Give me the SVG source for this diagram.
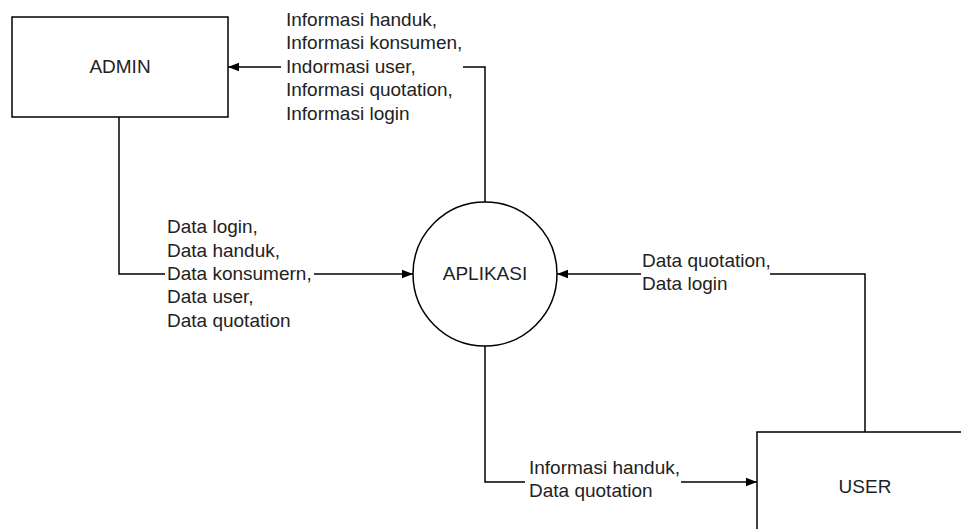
<svg xmlns="http://www.w3.org/2000/svg" width="961" height="529" viewBox="0 0 961 529">
  <defs>
    <style>
      .shape { fill: #ffffff; stroke: #000000; stroke-width: 1.5; }
      .flow { fill: none; stroke: #000000; stroke-width: 1.5; }
      .label { font-family: "Liberation Sans", Arial, sans-serif; font-size: 19px; fill: #222222; }
      .title { font-family: "Liberation Sans", Arial, sans-serif; font-size: 19px; fill: #222222; text-anchor: middle; }
    </style>
    <marker id="arrow" markerUnits="userSpaceOnUse" markerWidth="12" markerHeight="10" refX="11" refY="5" orient="auto">
      <path d="M0,0.8 L11,5 L0,9.2 Z" fill="#000000"/>
    </marker>
  </defs>
  <rect width="961" height="529" fill="#ffffff"/>

  <!-- data flows -->
  <g id="connectors">
    <!-- APLIKASI to ADMIN -->
    <path class="flow" d="M485,202 V67 H463"/>
    <path class="flow" d="M281,67 H228" marker-end="url(#arrow)"/>
    <!-- ADMIN to APLIKASI -->
    <path class="flow" d="M119,117 V274 H165"/>
    <path class="flow" d="M314,274 H413" marker-end="url(#arrow)"/>
    <!-- USER to APLIKASI -->
    <path class="flow" d="M865,432 V274 H770"/>
    <path class="flow" d="M641,274 H557" marker-end="url(#arrow)"/>
    <!-- APLIKASI to USER -->
    <path class="flow" d="M485,346 V482 H525"/>
    <path class="flow" d="M681,482 H757" marker-end="url(#arrow)"/>
  </g>

  <g id="flow-labels">
    <text class="label" x="286">
      <tspan x="286" y="26">Informasi handuk,</tspan>
      <tspan x="286" y="49.4">Informasi konsumen,</tspan>
      <tspan x="286" y="72.8">Indormasi user,</tspan>
      <tspan x="286" y="96.2">Informasi quotation,</tspan>
      <tspan x="286" y="119.6">Informasi login</tspan>
    </text>
    <text class="label">
      <tspan x="167" y="233.2">Data login,</tspan>
      <tspan x="167" y="256.6">Data handuk,</tspan>
      <tspan x="167" y="280">Data konsumern,</tspan>
      <tspan x="167" y="303.4">Data user,</tspan>
      <tspan x="167" y="326.8">Data quotation</tspan>
    </text>
    <text class="label">
      <tspan x="642" y="267">Data quotation,</tspan>
      <tspan x="642" y="290.4">Data login</tspan>
    </text>
    <text class="label">
      <tspan x="529" y="474">Informasi handuk,</tspan>
      <tspan x="529" y="497.4">Data quotation</tspan>
    </text>
  </g>

  <g id="admin">
    <rect class="shape" x="12" y="17" width="216" height="100"/>
    <text class="title" x="120" y="73">ADMIN</text>
  </g>

  <g id="aplikasi">
    <circle class="shape" cx="485" cy="274" r="72"/>
    <text class="title" x="485" y="280">APLIKASI</text>
  </g>

  <g id="user">
    <rect class="shape" x="757" y="432" width="216" height="110"/>
    <text class="title" x="865" y="493">USER</text>
  </g>
</svg>
